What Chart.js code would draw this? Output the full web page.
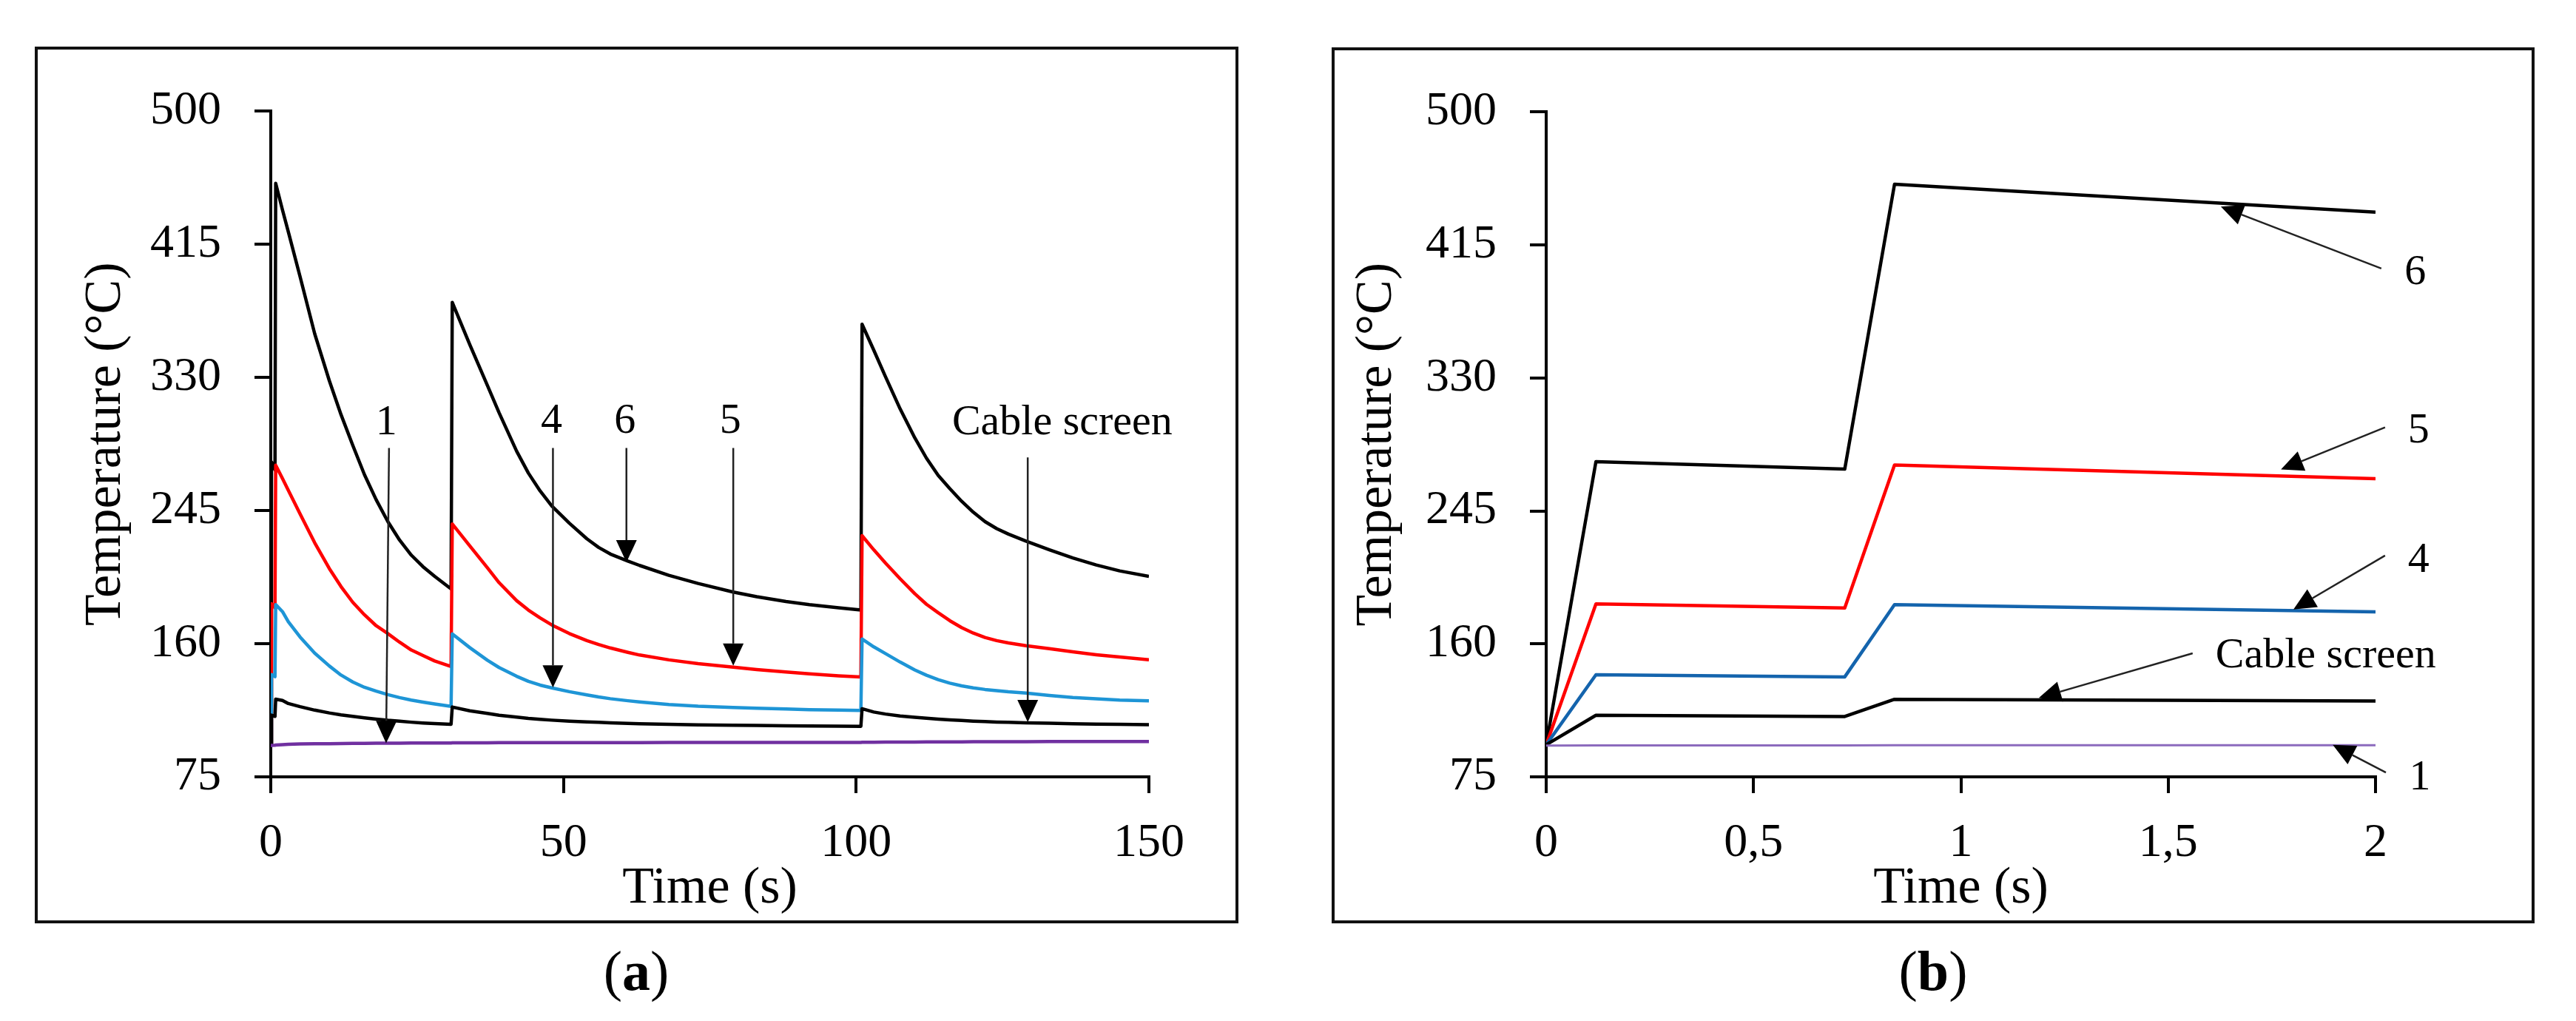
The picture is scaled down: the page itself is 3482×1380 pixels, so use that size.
<!DOCTYPE html>
<html>
<head>
<meta charset="utf-8">
<title>Temperature vs time</title>
<script src="https://cdn.jsdelivr.net/npm/chart.js@4.4.1/dist/chart.umd.min.js"></script>
<style>
    html, body { margin: 0; padding: 0; background: #fff; }
    body { width: 3482px; height: 1380px; position: relative; overflow: hidden; font-family: "Liberation Serif", serif; }
    .panel { position: absolute; border: 4px solid #111; box-sizing: border-box; background: #fff; }
    #panelA { left: 47px; top: 63px; width: 1627px; height: 1185px; }
    #panelB { left: 1800px; top: 64px; width: 1626px; height: 1184px; }
    .panel canvas { position: absolute; left: 0; top: 0; }
    .caption { position: absolute; top: 1264px; width: 300px; text-align: center; font-size: 76px; line-height: 96px; color: #000; }
    #capA { left: 710px; }
    #capB { left: 2463px; }
</style>
</head>
<body>
<div class="panel" id="panelA"><canvas id="chartA" width="1619" height="1177" style="width:1619px;height:1177px"></canvas></div>
<div class="panel" id="panelB"><canvas id="chartB" width="1618" height="1176" style="width:1618px;height:1176px"></canvas></div>
<div class="caption" id="capA">(<b>a</b>)</div>
<div class="caption" id="capB">(<b>b</b>)</div>

<script>
// Общие подписи осей
const yTicks = [75, 160, 245, 330, 415, 500];
const xTicksA = [0, 50, 100, 150];
const xTicksB = [0, 0.5, 1, 1.5, 2];
const xTickLabelsB = ['0', '0,5', '1', '1,5', '2'];

// (a) три импульса тока, время в секундах
const timeA = [
    0, 0.12, 0.72, 0.84, 2, 3, 5, 7.5, 10, 12, 14, 16, 18, 20, 22, 24, 26, 28, 30.8,
    31, 34, 37, 39, 42, 44, 46, 48, 51, 54, 56, 58, 61, 63, 68, 73, 79, 83, 88, 92, 97, 100.8,
    101, 103, 105, 107.5, 110, 112, 114, 116, 118, 120, 122, 124, 126, 129, 133, 137, 141, 145, 150
];
const curve6A = [
    95.5, 276, 271, 454, 437, 423, 394.5, 358, 328, 306.3, 286.8, 268, 252, 238, 226.2, 216.6, 209.2, 203, 195,
    378, 351, 325, 307.5, 282.9, 269, 257.6, 248, 237, 227, 221.5, 217.3, 212.8, 210, 203.7, 198.5, 193, 190, 187, 185, 183, 181.5,
    364, 347.5, 330.5, 310, 291.5, 278.5, 267.5, 259, 251, 244, 238, 233.5, 230, 225.5, 220, 214.8, 210.3, 206.5, 203
];
const curve5A = [
    95.5, 185.5, 183, 274, 265.5, 258, 243, 224.5, 208, 196.5, 186.5, 178.5, 171.5, 166.5, 161, 156, 152.5, 149, 145.5,
    236.5, 222.5, 208.5, 199, 187.5, 181.5, 176.5, 172, 166.5, 162, 159.5, 157.3, 154.5, 152.8, 149.7, 147.3, 145, 143.5, 142, 140.8, 139.5, 138.8,
    229, 220, 211.5, 201.5, 192, 185.2, 179.8, 174.7, 170.3, 166.8, 164, 162, 160.5, 158.7, 156.8, 154.8, 153, 151.5, 149.8
];
const curve4A = [
    95.5, 140.3, 139, 185, 180.5, 174, 164.3, 154, 145.8, 140, 135.6, 132.2, 129.7, 127.5, 125.6, 124, 122.7, 121.5, 120,
    166.3, 157.5, 149.5, 144.8, 139.2, 136, 133.6, 131.8, 129.4, 127.3, 126, 124.9, 123.6, 122.8, 121.2, 120.1, 119.3, 118.8, 118.3, 117.9, 117.6, 117.4,
    163, 158, 153.7, 148.3, 143.3, 139.9, 137.1, 134.8, 133.1, 131.8, 130.8, 130, 129.3, 128.5, 127, 125.7, 124.8, 124, 123.5
];
const screenA = [
    95.5, 114.4, 113.6, 124.6, 123.8, 121.8, 119.8, 117.6, 115.8, 114.6, 113.6, 112.7, 111.9, 111.1, 110.5, 109.9, 109.4, 109, 108.6,
    119.6, 117.2, 115.5, 114.3, 113.1, 112.3, 111.7, 111.2, 110.6, 110.1, 109.8, 109.5, 109.1, 108.9, 108.5, 108.2, 107.9, 107.8, 107.6, 107.5, 107.4, 107.3,
    118.5, 116.4, 115.1, 113.9, 113, 112.4, 111.9, 111.4, 111, 110.6, 110.3, 110, 109.8, 109.5, 109.2, 108.9, 108.7, 108.5, 108.3
];
const curve1A = [
    95, 95.1, 95.2, 95.3, 95.6, 95.8, 96, 96.1, 96.2, 96.3, 96.4, 96.4, 96.5, 96.5, 96.5, 96.6, 96.6, 96.6, 96.6,
    96.7, 96.7, 96.7, 96.8, 96.8, 96.8, 96.8, 96.9, 96.9, 96.9, 96.9, 96.9, 96.9, 96.9, 97, 97, 97, 97, 97, 97, 97, 97,
    97.1, 97.1, 97.2, 97.2, 97.2, 97.3, 97.3, 97.3, 97.3, 97.4, 97.4, 97.4, 97.4, 97.4, 97.5, 97.5, 97.5, 97.5, 97.5
];

// (b) первые две секунды
const timeB = [0, 0.12, 0.72, 0.84, 2];
const curve6B = [95.5, 276.5, 271.7, 453.8, 436];
const curve5B = [95.5, 185.6, 183, 274.4, 265.6];
const curve4B = [95.5, 140.3, 138.9, 185.1, 180.5];
const screenB = [95.5, 114.4, 113.6, 124.6, 123.5];
const curve1B = [95, 95.1, 95.1, 95.2, 95.2];

// Выноски со стрелками (в единицах данных)
const arrowsA = [
    { text: '1', at: [19.75, 301], from: [20.2, 285], to: [19.7, 96.5] },
    { text: '4', at: [47.95, 302], from: [48.2, 285], to: [48.2, 132] },
    { text: '6', at: [60.5, 302], from: [60.75, 285], to: [60.75, 212] },
    { text: '5', at: [78.5, 302], from: [79, 285], to: [79, 146] },
    { text: 'Cable screen', at: [135.2, 301], from: [129.3, 279], to: [129.3, 110] }
];
const arrowsB = [
    { text: '6', at: [2.096, 397], from: [2.014, 400], to: [1.627, 439.5] },
    { text: '5', at: [2.104, 296], from: [2.023, 298.4], to: [1.772, 271.5] },
    { text: '4', at: [2.104, 213.4], from: [2.023, 216.5], to: [1.802, 182] },
    { text: 'Cable screen', at: [1.88, 152], from: [1.559, 154], to: [1.188, 125.5] },
    { text: '1', at: [2.107, 74], from: [2.025, 77.8], to: [1.897, 95.5] }
];

Chart.defaults.font.family = '"Liberation Serif", "Times New Roman", serif';
Chart.defaults.color = '#000';

function toPoints(xs, ys) {
    return xs.map(function(x, i) { return { x: x, y: ys[i] }; });
}

function lineSet(xs, ys, color, width) {
    return {
        data: toPoints(xs, ys),
        borderColor: color,
        borderWidth: width,
        borderJoinStyle: 'round',
        pointRadius: 0,
        fill: false,
        tension: 0
    };
}

// Плагин: линии-выноски с треугольной стрелкой и подписью
function arrowPlugin(items) {
    return {
        id: 'arrows',
        afterDatasetsDraw: function(chart) {
            const ctx = chart.ctx;
            const sx = chart.scales.x;
            const sy = chart.scales.y;
            ctx.save();
            items.forEach(function(a) {
                const x1 = sx.getPixelForValue(a.from[0]);
                const y1 = sy.getPixelForValue(a.from[1]);
                const x2 = sx.getPixelForValue(a.to[0]);
                const y2 = sy.getPixelForValue(a.to[1]);
                const ang = Math.atan2(y2 - y1, x2 - x1);
                const head = 30, half = 14;
                const bx = x2 - head * Math.cos(ang);
                const by = y2 - head * Math.sin(ang);

                ctx.strokeStyle = '#222';
                ctx.lineWidth = 2.5;
                ctx.beginPath();
                ctx.moveTo(x1, y1);
                ctx.lineTo(bx, by);
                ctx.stroke();

                ctx.fillStyle = '#000';
                ctx.beginPath();
                ctx.moveTo(x2, y2);
                ctx.lineTo(bx + half * Math.sin(ang), by - half * Math.cos(ang));
                ctx.lineTo(bx - half * Math.sin(ang), by + half * Math.cos(ang));
                ctx.closePath();
                ctx.fill();

                ctx.font = '58px "Liberation Serif", serif';
                ctx.textAlign = 'center';
                ctx.textBaseline = 'middle';
                ctx.fillText(a.text, sx.getPixelForValue(a.at[0]), sy.getPixelForValue(a.at[1]));
            });
            ctx.restore();
        }
    };
}

function buildScales(xMax, xTicks, xLabels, yWidth, yTitlePad) {
    return {
        x: {
            type: 'linear',
            min: 0,
            max: xMax,
            afterBuildTicks: function(s) { s.ticks = xTicks.map(function(v) { return { value: v }; }); },
            afterFit: function(s) { s.height = 194; },
            ticks: {
                font: { size: 64 },
                padding: 30,
                maxRotation: 0,
                autoSkip: false,
                callback: function(value, index) { return xLabels ? xLabels[index] : String(value); }
            },
            grid: { drawOnChartArea: false, drawTicks: true, tickLength: 22, color: '#000', lineWidth: 4 },
            border: { display: true, color: '#000', width: 4 },
            title: { display: true, text: 'Time (s)', font: { size: 70 }, padding: { top: 0, bottom: 0 } }
        },
        y: {
            type: 'linear',
            min: 75,
            max: 500,
            afterBuildTicks: function(s) { s.ticks = yTicks.map(function(v) { return { value: v }; }); },
            afterFit: function(s) { s.width = yWidth; },
            ticks: { font: { size: 64 }, padding: 45, autoSkip: false },
            grid: { drawOnChartArea: false, drawTicks: true, tickLength: 22, color: '#000', lineWidth: 4 },
            border: { display: true, color: '#000', width: 4 },
            title: { display: true, text: 'Temperature (°C)', font: { size: 70 }, padding: { top: yTitlePad, bottom: 0 } }
        }
    };
}

function baseOptions(scales, padRight, padTop) {
    return {
        responsive: false,
        animation: false,
        devicePixelRatio: 1,
        events: [],
        layout: { padding: { left: 0, right: padRight, top: padTop, bottom: 0 } },
        plugins: { legend: { display: false }, tooltip: { enabled: false } },
        scales: scales
    };
}

document.addEventListener('DOMContentLoaded', function() {
    new Chart(document.getElementById('chartA'), {
        type: 'line',
        data: {
            datasets: [
                lineSet(timeA, curve1A, '#7030a0', 4.5),
                lineSet(timeA, screenA, '#000000', 4.5),
                lineSet(timeA, curve4A, '#1e95d6', 4.5),
                lineSet(timeA, curve5A, '#ff0000', 4.5),
                lineSet(timeA, curve6A, '#000000', 4.5)
            ]
        },
        options: baseOptions(buildScales(150, xTicksA, null, 315, 51), 117, 68),
        plugins: [arrowPlugin(arrowsA)]
    });

    new Chart(document.getElementById('chartB'), {
        type: 'line',
        data: {
            datasets: [
                lineSet(timeB, curve1B, '#8c6bbd', 3),
                lineSet(timeB, screenB, '#000000', 4.5),
                lineSet(timeB, curve4B, '#1464ad', 4.5),
                lineSet(timeB, curve5B, '#ff0000', 4.5),
                lineSet(timeB, curve6B, '#000000', 4.5)
            ]
        },
        options: baseOptions(buildScales(2, xTicksB, xTickLabelsB, 286, 16), 211, 67),
        plugins: [arrowPlugin(arrowsB)]
    });
});
</script>
</body>
</html>
